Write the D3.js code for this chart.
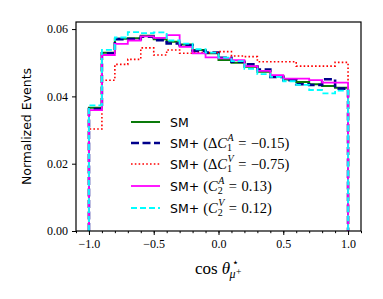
<!DOCTYPE html>
<html>
<head>
<meta charset="utf-8">
<script src="https://cdn.jsdelivr.net/npm/d3@7"></script>
<style>
  body { margin: 0; background: #fff; }
  svg { display: block; }
  .tick text { font-family: "Liberation Serif", "DejaVu Serif", serif; font-size: 12px; fill: #000; }
  .axis path { display: none; }
  .axis line { stroke: #000; stroke-width: 1; }
</style>
</head>
<body>
<div id="chart"></div>
<script>
(function () {
  const W = 383, H = 299;
  const margin = {top: 22, right: 22, bottom: 68, left: 76};
  const width = W - margin.left - margin.right;
  const height = H - margin.top - margin.bottom;

  // bin edges of cos(theta*) : 20 bins from -1 to 1
  const binEdges = [-1.0, -0.9, -0.8, -0.7, -0.6, -0.5, -0.4, -0.3, -0.2, -0.1,
    0.0, 0.1, 0.2, 0.3, 0.4, 0.5, 0.6, 0.7, 0.8, 0.9, 1.0];

  const sm = [0.0366, 0.0530, 0.0571, 0.0573, 0.0580, 0.0570, 0.0562, 0.0554, 0.0538, 0.0528,
    0.0508, 0.0500, 0.0488, 0.0473, 0.0460, 0.0450, 0.0443, 0.0436, 0.0431, 0.0426];
  const dC1A = [0.0362, 0.0528, 0.0570, 0.0570, 0.0577, 0.0567, 0.0557, 0.0552, 0.0535, 0.0530,
    0.0515, 0.0503, 0.0495, 0.0480, 0.0458, 0.0448, 0.0436, 0.0434, 0.0451, 0.0423];
  const dC1V = [0.0303, 0.0448, 0.0495, 0.0510, 0.0544, 0.0523, 0.0538, 0.0528, 0.0530, 0.0530,
    0.0533, 0.0520, 0.0518, 0.0503, 0.0503, 0.0503, 0.0490, 0.0490, 0.0490, 0.0501];
  const c2A = [0.0359, 0.0523, 0.0556, 0.0566, 0.0578, 0.0574, 0.0582, 0.0547, 0.0528, 0.0516,
    0.0513, 0.0508, 0.0490, 0.0476, 0.0463, 0.0453, 0.0453, 0.0448, 0.0441, 0.0441];
  const c2V = [0.0373, 0.0538, 0.0575, 0.0591, 0.0588, 0.0590, 0.0566, 0.0557, 0.0540, 0.0530,
    0.0515, 0.0505, 0.0482, 0.0466, 0.0458, 0.0445, 0.0434, 0.0419, 0.0409, 0.0417];

  const xTicks = [-1.0, -0.5, 0.0, 0.5, 1.0];
  const yTicks = [0.00, 0.02, 0.04, 0.06];

  // legend: coupling symbol, sub index, sup label, value
  const series = [
    {values: sm,   delta: false, sub: null, sup: null, val: null,    color: '#0a7a0a', width: 2,   dash: null},
    {values: dC1A, delta: true,  sub: '1',  sup: 'A',  val: '−0.15', color: '#00008b', width: 2.6, dash: '8,3.5'},
    {values: dC1V, delta: true,  sub: '1',  sup: 'V',  val: '−0.75', color: '#ff0000', width: 1.6, dash: '1.6,2.2'},
    {values: c2A,  delta: false, sub: '2',  sup: 'A',  val: '0.13',  color: '#ff00ff', width: 1.8, dash: null},
    {values: c2V,  delta: false, sub: '2',  sup: 'V',  val: '0.12',  color: '#00ffff', width: 1.8, dash: '6,3'}
  ];

  const svg = d3.select('#chart').append('svg')
    .attr('width', W)
    .attr('height', H);

  const g = svg.append('g')
    .attr('transform', 'translate(' + margin.left + ',' + margin.top + ')');

  const x = d3.scaleLinear().domain([-1.1, 1.1]).range([0, width]);
  const y = d3.scaleLinear().domain([0, 0.0621]).range([height, 0]);

  // minor x ticks every 0.1
  g.append('g')
    .attr('class', 'axis')
    .attr('transform', 'translate(0,' + height + ')')
    .call(d3.axisBottom(x).tickValues(d3.range(-11, 12).map(function (i) { return i / 10; }))
      .tickSize(2.2).tickFormat(''));

  g.append('g')
    .attr('class', 'axis')
    .attr('transform', 'translate(0,' + height + ')')
    .call(d3.axisBottom(x).tickValues(xTicks).tickSize(4).tickPadding(4).tickFormat(d3.format('.1f')));

  g.append('g')
    .attr('class', 'axis')
    .call(d3.axisLeft(y).tickValues(yTicks).tickSize(4).tickPadding(4).tickFormat(d3.format('.2f')));

  // histograms
  const step = d3.line()
    .x(function (d) { return x(d[0]); })
    .y(function (d) { return y(d[1]); })
    .curve(d3.curveStepAfter);

  series.forEach(function (s) {
    const pts = [[binEdges[0], 0]];
    s.values.forEach(function (v, i) { pts.push([binEdges[i], v]); });
    pts.push([binEdges[binEdges.length - 1], s.values[s.values.length - 1]]);
    pts.push([binEdges[binEdges.length - 1], 0]);
    g.append('path')
      .attr('d', step(pts))
      .attr('fill', 'none')
      .attr('stroke', s.color)
      .attr('stroke-width', s.width)
      .attr('stroke-dasharray', s.dash);
  });

  // frame
  g.append('rect')
    .attr('width', width)
    .attr('height', height)
    .attr('fill', 'none')
    .attr('stroke', '#000')
    .attr('stroke-width', 1.2);

  // axis labels
  svg.append('text')
    .attr('transform', 'translate(31,' + (margin.top + height / 2) + ') rotate(-90)')
    .attr('text-anchor', 'middle')
    .style('font-family', '"DejaVu Sans", sans-serif')
    .style('font-size', '12.5px')
    .text('Normalized Events');

  const serif = '"Liberation Serif", "DejaVu Serif", serif';

  function piece(parent, px, py, str, opts) {
    const t = parent.append('text')
      .attr('x', px).attr('y', py)
      .style('font-family', opts.sans ? '"DejaVu Sans", sans-serif' : serif)
      .style('font-size', (opts.size || 14.5) + 'px')
      .style('font-style', opts.italic ? 'italic' : 'normal')
      .text(str);
    return t.node().getComputedTextLength();
  }

  // x label: cos theta*_{mu+}
  const xlab = svg.append('g');
  let lx = 195;
  const lb = 274;
  lx += piece(xlab, lx, lb, 'cos', {size: 17}) + 4;
  lx += piece(xlab, lx, lb, 'θ', {size: 17, italic: true}) + 0.5;
  piece(xlab, lx + 1, lb - 8, '⋆', {size: 11});
  const wmu = piece(xlab, lx - 1, lb + 4, 'μ', {size: 12, italic: true});
  piece(xlab, lx - 1 + wmu + 0.5, lb + 0.5, '+', {size: 9.5});

  // legend
  const legend = svg.append('g');
  const lx0 = 131, lx1 = 160, tx = 170;
  const rowY = [122, 143, 164, 186, 208];

  series.forEach(function (s, i) {
    const cy = rowY[i];
    legend.append('line')
      .attr('x1', lx0).attr('x2', lx1)
      .attr('y1', cy).attr('y2', cy)
      .attr('stroke', s.color)
      .attr('stroke-width', s.width)
      .attr('stroke-dasharray', s.dash);
    const base = cy + 4.5;
    let px = tx;
    if (!s.sub) {
      piece(legend, px, base, 'SM', {sans: true, size: 12.5});
      return;
    }
    px += piece(legend, px, base, 'SM+', {sans: true, size: 12.5}) + 4;
    px += piece(legend, px, base, s.delta ? '(Δ' : '(', {});
    px += piece(legend, px, base, 'C', {italic: true});
    const wSup = piece(legend, px + 0.5, base - 6.5, s.sup, {italic: true, size: 10});
    const wSub = piece(legend, px, base + 3, s.sub, {size: 10});
    px += Math.max(wSup + 0.5, wSub) + 4.5;
    px += piece(legend, px, base, '=', {}) + 4.5;
    px += piece(legend, px, base, s.val + ')', {});
  });
})();
</script>
</body>
</html>
